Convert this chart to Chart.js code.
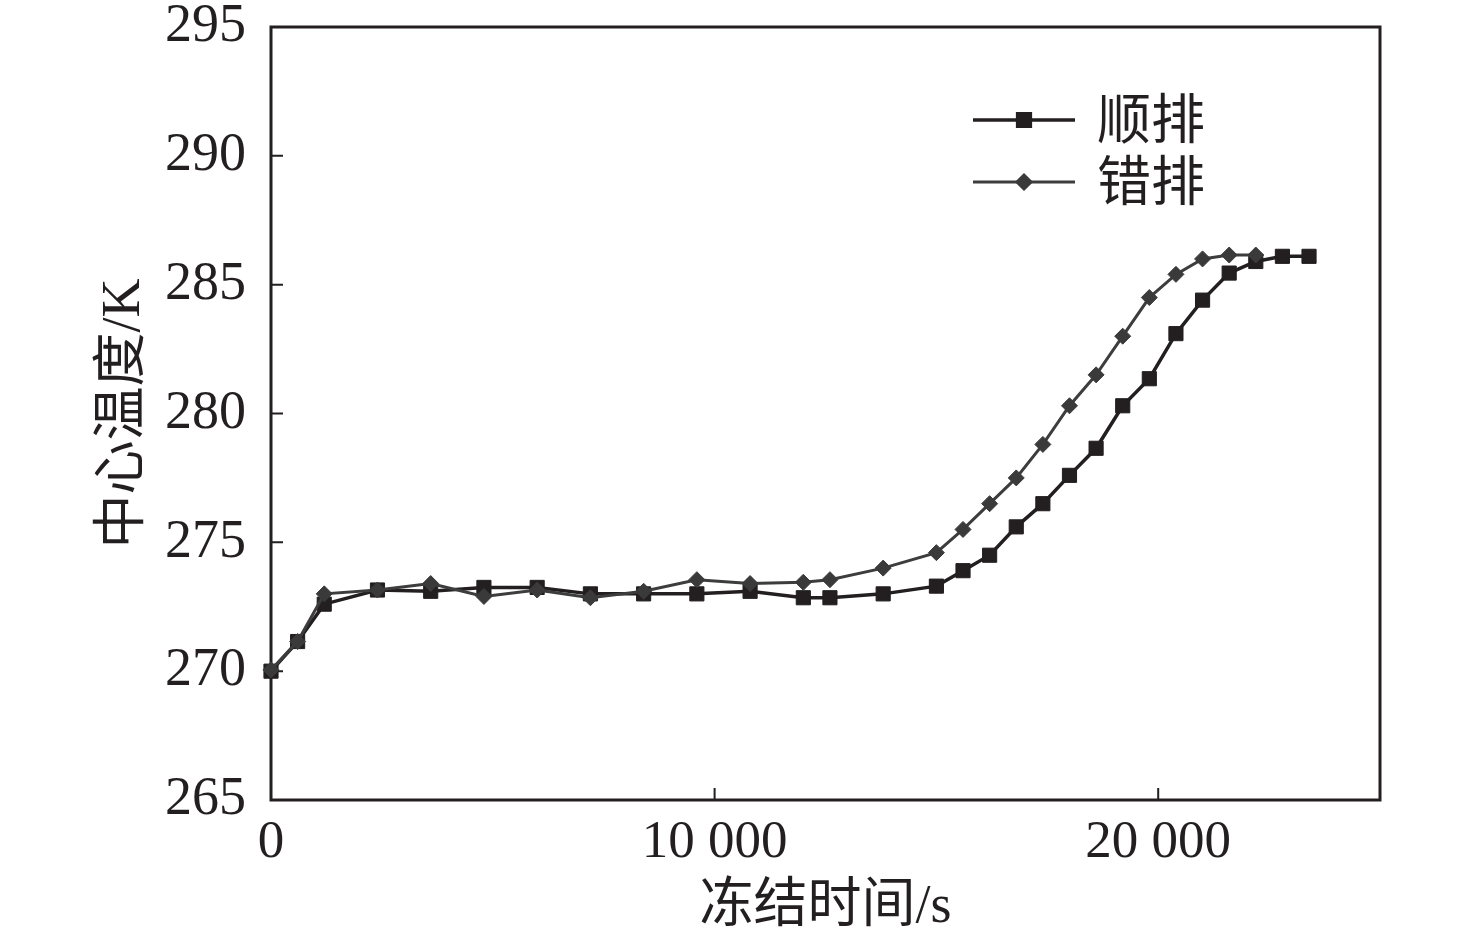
<!DOCTYPE html>
<html>
<head>
<meta charset="utf-8">
<script src="https://cdn.jsdelivr.net/npm/chart.js@4.4.1/dist/chart.umd.min.js"></script>
<style>
  html, body { margin: 0; padding: 0; background: #fff; }
  canvas { display: block; }
</style>
</head>
<body>
<canvas id="tempChart" width="1476" height="944"></canvas>
<script>
// freezing time (s) and center temperature (K)
const shunTimes = [0, 600, 1200, 2400, 3600, 4800, 6000, 7200, 8400, 9600, 10800, 12000, 12600, 13800,
    15000, 15600, 16200, 16800, 17400, 18000, 18600, 19200, 19800, 20400, 21000, 21600, 22200, 22800, 23400];
const shunTemps = [270.0, 271.15, 272.6, 273.15, 273.1, 273.25, 273.25, 273.0, 273.0, 273.0, 273.1, 272.85, 272.85, 273.0,
    273.3, 273.9, 274.5, 275.6, 276.5, 277.6, 278.65, 280.3, 281.35, 283.1, 284.4, 285.45, 285.9, 286.1, 286.1];

const cuoTimes = [0, 600, 1200, 2400, 3600, 4800, 6000, 7200, 8400, 9600, 10800, 12000, 12600, 13800,
    15000, 15600, 16200, 16800, 17400, 18000, 18600, 19200, 19800, 20400, 21000, 21600, 22200];
const cuoTemps = [270.05, 271.15, 273.0, 273.15, 273.4, 272.9, 273.15, 272.85, 273.1, 273.55, 273.4, 273.45, 273.55, 274.0,
    274.6, 275.5, 276.5, 277.5, 278.8, 280.3, 281.5, 283.0, 284.5, 285.4, 286.0, 286.15, 286.15];

const seriesNames = ['顺排', '错排'];
const xTicks = [0, 10000, 20000];
const xTickLabels = ['0', '10 000', '20 000'];
const yTicks = [265, 270, 275, 280, 285, 290, 295];
const yTickLabels = ['265', '270', '275', '280', '285', '290', '295'];

const axisColor = '#231f20';
const toPoints = (xs, ys) => xs.map((x, i) => ({ x: x, y: ys[i] }));

Chart.defaults.font.family = '"Liberation Serif", "Noto Sans CJK SC", serif';
Chart.defaults.color = '#231f20';

// box around the plot and inward tick marks
const framePlugin = {
    id: 'frame',
    beforeDatasetsDraw(chart) {
        const { ctx, chartArea: a, scales } = chart;
        ctx.save();
        ctx.strokeStyle = axisColor;
        ctx.beginPath();
        scales.x.ticks.forEach((t, i) => {
            const px = scales.x.getPixelForTick(i);
            ctx.moveTo(px, a.bottom);
            ctx.lineTo(px, a.bottom - 12);
        });
        scales.y.ticks.forEach((t, i) => {
            const py = scales.y.getPixelForTick(i);
            ctx.moveTo(a.left, py);
            ctx.lineTo(a.left + 12, py);
        });
        ctx.lineWidth = 2;
        ctx.stroke();
        ctx.lineWidth = 3;
        ctx.strokeRect(a.left, a.top, a.right - a.left, a.bottom - a.top);
        ctx.restore();
    }
};

// legend with line + marker, like the original figure
const lineLegend = {
    id: 'lineLegend',
    afterDraw(chart) {
        const { ctx } = chart;
        const x0 = 973, x1 = 1075, textX = 1097;
        const rows = [120, 182];
        ctx.save();
        chart.data.datasets.forEach((ds, i) => {
            const y = rows[i];
            ctx.strokeStyle = ds.borderColor;
            ctx.lineWidth = ds.borderWidth;
            ctx.beginPath();
            ctx.moveTo(x0, y);
            ctx.lineTo(x1, y);
            ctx.stroke();
            ctx.fillStyle = ds.pointBackgroundColor;
            ctx.strokeStyle = ds.pointBorderColor;
            Chart.helpers.drawPoint(ctx, {
                pointStyle: ds.pointStyle,
                radius: ds.pointRadius - 1,
                borderWidth: 1,
                rotation: 0
            }, (x0 + x1) / 2, y);
            ctx.fillStyle = '#231f20';
            ctx.font = '54px "Noto Sans CJK SC", sans-serif';
            ctx.textAlign = 'left';
            ctx.textBaseline = 'middle';
            ctx.fillText(ds.label, textX, y - 2);
        });
        ctx.restore();
    }
};

new Chart(document.getElementById('tempChart').getContext('2d'), {
    type: 'line',
    data: {
        datasets: [
            {
                label: seriesNames[0],
                data: toPoints(shunTimes, shunTemps),
                borderColor: '#231f20',
                borderWidth: 3.5,
                pointStyle: 'rect',
                pointRadius: 10,
                pointBackgroundColor: '#231f20',
                pointBorderColor: '#231f20',
                pointBorderWidth: 1,
                tension: 0,
                clip: false,
                order: 1
            },
            {
                label: seriesNames[1],
                data: toPoints(cuoTimes, cuoTemps),
                borderColor: '#3d3d3d',
                borderWidth: 3,
                pointStyle: 'rectRot',
                pointRadius: 8,
                pointBackgroundColor: '#3a3a3a',
                pointBorderColor: '#3a3a3a',
                pointBorderWidth: 1,
                tension: 0,
                clip: false,
                order: 0
            }
        ]
    },
    options: {
        responsive: false,
        animation: false,
        devicePixelRatio: 1,
        layout: { padding: { top: 27, right: 96, bottom: 0, left: 0 } },
        plugins: {
            legend: { display: false },
            tooltip: { enabled: false }
        },
        scales: {
            x: {
                type: 'linear',
                min: 0,
                max: 25000,
                grid: { display: false },
                border: { display: false },
                afterBuildTicks: (scale) => { scale.ticks = xTicks.map(v => ({ value: v })); },
                afterFit: (scale) => {
                    scale.height = 144;
                    scale.paddingLeft = 0;
                    scale.paddingRight = 0;
                },
                ticks: {
                    padding: 9,
                    maxRotation: 0,
                    font: { size: 53, lineHeight: 1 },
                    callback: (v) => xTickLabels[xTicks.indexOf(v)]
                },
                title: {
                    display: true,
                    text: '冻结时间/s',
                    font: { size: 54, lineHeight: 1 },
                    padding: { top: 0, bottom: 9 }
                }
            },
            y: {
                min: 265,
                max: 295,
                grid: { display: false },
                border: { display: false },
                afterBuildTicks: (scale) => { scale.ticks = yTicks.map(v => ({ value: v })); },
                afterFit: (scale) => {
                    scale.width = 271;
                    scale.paddingTop = 0;
                    scale.paddingBottom = 0;
                },
                ticks: {
                    padding: 17,
                    font: { size: 54, lineHeight: 1 },
                    callback: (v) => yTickLabels[yTicks.indexOf(v)]
                },
                title: {
                    display: true,
                    text: '中心温度/K',
                    font: { size: 54, lineHeight: 1 },
                    padding: { top: 98, bottom: 0 }
                }
            }
        }
    },
    plugins: [framePlugin, lineLegend]
});
</script>
</body>
</html>
